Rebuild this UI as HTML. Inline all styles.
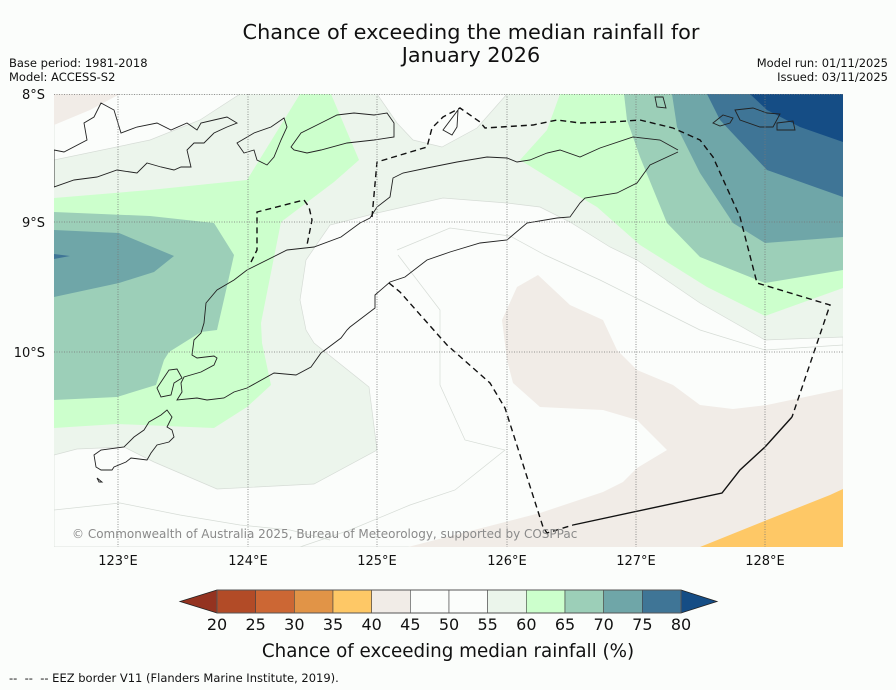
<!DOCTYPE html>
<html><head><meta charset="utf-8"><style>
html,body{margin:0;padding:0;background:#fbfdfb;}
svg{display:block;font-family:"DejaVu Sans","Liberation Sans",sans-serif;}
</style></head><body>
<svg width="896" height="690" viewBox="0 0 896 690">
<rect x="0" y="0" width="896" height="690" fill="#fbfdfb"/>
<text x="471" y="39" font-size="20.8" text-anchor="middle" fill="#111">Chance of exceeding the median rainfall for</text>
<text x="471" y="62" font-size="20.8" text-anchor="middle" fill="#111">January 2026</text>
<text x="9" y="67" font-size="11.5" fill="#111">Base period: 1981-2018</text>
<text x="9" y="81" font-size="11.5" fill="#111">Model: ACCESS-S2</text>
<text x="888" y="67" font-size="11.5" fill="#111" text-anchor="end">Model run: 01/11/2025</text>
<text x="888" y="81" font-size="11.5" fill="#111" text-anchor="end">Issued: 03/11/2025</text>

<defs><clipPath id="mc"><rect x="54" y="94" width="789" height="453"/></clipPath></defs>
<g clip-path="url(#mc)">
<rect x="54" y="94" width="789" height="453" fill="#ecf5ec"/>
<polygon fill="#fbfdfb" stroke="#d6dcd6" stroke-width="0.7" points="54,94 240,94 200,120 150,140 54,160"/>
<polygon fill="#f1ece7" points="54,94 120,94 90,110 54,125"/>
<polygon fill="#fbfdfb" stroke="#d6dcd6" stroke-width="0.7" points="377,94 397,123 413,140 442,147 477,128 507,94"/>
<polygon fill="#fbfdfb" stroke="#d6dcd6" stroke-width="0.7" points="54,455 77,449 124,447 154,462 217,489 314,484 377,450 369,387 314,343 306,330 300,300 306,260 330,225 377,213 443,198 507,203 540,207 570,222 610,247 637,260 700,303 765,340 843,337 843,547 54,547"/>
<polyline fill="none" stroke="#d6dcd6" stroke-width="0.7" points="397,250 450,228 510,236 545,255 600,280 640,300 700,330 765,350 843,345"/>
<polyline fill="none" stroke="#d6dcd6" stroke-width="0.7" points="54,510 120,503 180,515 240,525 290,530 330,540"/>
<polyline fill="none" stroke="#d6dcd6" stroke-width="0.7" points="398,255 440,310 440,385 465,440 505,450 455,490 410,505 350,530 300,547"/>
<polygon fill="#f1ece7" points="538,275 517,287 502,320 507,360 513,383 540,407 603,410 637,420 667,450 637,468 623,482 603,492 540,513 408,547 843,547 843,389 767,405 733,409 700,405 673,385 637,370 617,350 603,320 570,305"/>
<polygon fill="#fec866" points="700,547 767,520 830,495 843,489 843,547"/>
<polygon fill="#ccffcc" points="54,198 150,190 247,180 300,94 331,94 359,160 334,182 281,222 261,323 262,343 271,385 247,407 214,428 117,424 54,428"/>
<polygon fill="#ccffcc" points="560,94 624,94 843,94 843,288 765,316 707,287 640,245 597,207 580,197 520,160 547,130"/>
<polygon fill="#9ccfb8" points="54,212 150,216 214,223 234,255 225,295 217,330 201,332 169,352 164,360 156,385 117,397 54,400"/>
<polygon fill="#9ccfb8" points="624,94 843,94 843,270 765,283 700,257 667,223 640,157 627,120"/>
<polygon fill="#6fa6a8" points="54,230 119,233 174,256 154,272 119,283 54,297"/>
<polygon fill="#6fa6a8" points="672,94 843,94 843,237 765,243 733,223 700,173 677,127"/>
<polygon fill="#3f7596" points="54,254 70,256 54,259"/>
<polygon fill="#3f7596" points="707,94 843,94 843,197 767,170 720,120"/>
<polygon fill="#154d85" points="750,94 843,94 843,142 800,127 767,110"/>

<g fill="none" stroke="#222" stroke-width="0.9">
<polygon points="54,150 64,152 87,140 84,123 94,117 101,103 114,110 121,133 137,127 157,123 171,130 187,123 197,130 201,123 214,120 227,117 237,123 227,127 214,133 204,143 194,143 187,150 191,167 181,167 174,170 161,167 147,163 137,173 117,170 97,177 74,180 54,187"/>
<polygon points="237,143 254,133 271,127 284,118 287,127 281,140 274,157 267,165 257,160 254,150 244,153"/>
<polygon points="291,147 301,133 321,123 337,115 354,113 374,115 387,113 394,123 394,137 374,140 347,143 321,150 307,153 294,150"/>
<polygon points="443,130 458,110 457,127 452,135"/>
<polygon points="655,97 663,97 666,108 657,107"/>
<polygon points="713,123 723,115 733,118 730,123 720,126"/>
<polygon points="735,110 753,108 767,113 780,114 773,127 760,127 740,120"/>
<polygon points="777,123 793,121 795,130 777,130"/>
<polygon points="157,388 169,370 177,369 182,378 174,383 171,395 161,397"/>
<polygon points="167,410 172,417 167,427 172,430 174,437 169,442 157,445 151,453 147,460 131,458 126,462 114,467 112,470 101,470 96,467 94,455 101,450 124,447 134,437 144,430 149,422 161,415"/>
<polygon points="97,478 102,482 99,482"/>
<polyline points="678,150 660,140 633,137 600,148 580,157 560,150 547,153 530,160 517,162 507,158 487,157 457,162 427,168 403,173 393,178 390,197 377,207 370,218 360,223 341,237 314,247 287,250 247,270 234,280 217,290 206,303 204,323 201,333 194,340 192,355 197,358 214,356 217,358 214,365 201,372 184,377 181,383 182,392 177,400 197,398 207,400 224,398 234,392 247,388 274,373 296,375 311,367 321,353 341,338 347,330 350,327 375,308 375,295 390,282 405,277 427,260 450,252 480,243 507,240 527,223 557,218 570,217 580,203 585,198 617,193 637,183 650,165 678,152"/>
</g>

<g fill="none" stroke="#111" stroke-width="1.4" stroke-dasharray="6,4">
<polyline points="372,217 377,162 427,147 432,128 443,117 460,108 480,122 485,128 533,125 557,120 580,123 613,122 640,120 673,128 700,140 713,157 740,217 757,283 830,305 792,417"/>
<polyline points="251,262 257,250 257,212 304,200 309,207 312,220 307,245"/>
<polyline points="389,283 400,292 447,345 490,383 505,408 543,527 547,533 573,525"/>
</g>
<polyline fill="none" stroke="#111" stroke-width="1.4" points="573,525 722,493 740,470 765,447 792,417"/>

<g stroke="#777" stroke-width="0.8" stroke-dasharray="1,1.5">
<line x1="118" y1="94" x2="118" y2="547"/><line x1="248" y1="94" x2="248" y2="547"/><line x1="377" y1="94" x2="377" y2="547"/><line x1="507" y1="94" x2="507" y2="547"/><line x1="636" y1="94" x2="636" y2="547"/><line x1="765" y1="94" x2="765" y2="547"/>
<line x1="54" y1="94.5" x2="843" y2="94.5"/><line x1="54" y1="222" x2="843" y2="222"/><line x1="54" y1="352" x2="843" y2="352"/>
</g>
<text x="72" y="538" font-size="12" fill="#8a8a8a">© Commonwealth of Australia 2025, Bureau of Meteorology, supported by COSPPac</text>
</g>

<g font-size="13" fill="#111">
<text x="45" y="99" text-anchor="end">8°S</text>
<text x="45" y="227" text-anchor="end">9°S</text>
<text x="45" y="357" text-anchor="end">10°S</text>
</g>
<g font-size="13" fill="#111" text-anchor="middle">
<text x="118" y="565">123°E</text><text x="248" y="565">124°E</text><text x="377" y="565">125°E</text><text x="507" y="565">126°E</text><text x="636" y="565">127°E</text><text x="765" y="565">128°E</text>
</g>

<g id="cbar"></g>
<text x="448" y="657" font-size="18.3" text-anchor="middle" fill="#111">Chance of exceeding median rainfall (%)</text>
<text x="9" y="682" font-size="11.5" fill="#111" xml:space="preserve">--  --  -- EEZ border V11 (Flanders Marine Institute, 2019).</text>
</svg>
<script>
const levels = [20,25,30,35,40,45,50,55,60,65,70,75,80];
const binColors = ["#b24b27","#cc6734","#e19447","#fec866","#f1ece7","#fbfdfb","#fbfdfb","#ebf5eb","#ccffcc","#9ccfb8","#6fa6a8","#3f7596"];
const underColor = "#943320";
const overColor = "#154d85";
(function(){
  const NS="http://www.w3.org/2000/svg";
  const g=document.getElementById('cbar');
  const x0=217,x1=681,y0=590,y1=613;
  const xs=v=>x0+(v-levels[0])/(levels[levels.length-1]-levels[0])*(x1-x0);
  const ym=(y0+y1)/2;
  const l=document.createElementNS(NS,'polygon');
  l.setAttribute('points',`${x0},${y0} 180,${ym} ${x0},${y1}`);
  l.setAttribute('fill',underColor);l.setAttribute('stroke','#222');l.setAttribute('stroke-width','0.8');
  
  
  g.appendChild(l);
  const r=document.createElementNS(NS,'polygon');
  r.setAttribute('points',`${x1},${y0} 717,${ym} ${x1},${y1}`);
  r.setAttribute('fill',overColor);r.setAttribute('stroke','#222');r.setAttribute('stroke-width','0.8');
  
  
  g.appendChild(r);
  for(let i=0;i<binColors.length;i++){
    const b=document.createElementNS(NS,'rect');
    b.setAttribute('x',xs(levels[i]));b.setAttribute('y',y0);
    b.setAttribute('width',xs(levels[i+1])-xs(levels[i]));b.setAttribute('height',y1-y0);
    b.setAttribute('fill',binColors[i]);b.setAttribute('stroke','#444');b.setAttribute('stroke-width','0.6');
    
    
    g.appendChild(b);
  }
  const f=document.createElementNS(NS,'rect');
  f.setAttribute('x',x0);f.setAttribute('y',y0);f.setAttribute('width',x1-x0);f.setAttribute('height',y1-y0);
  f.setAttribute('fill','none');f.setAttribute('stroke','#555');f.setAttribute('stroke-width','1');
  
  
  g.appendChild(f);
  levels.forEach(v=>{
    const t=document.createElementNS(NS,'text');
    t.setAttribute('x',xs(v));t.setAttribute('y',630);t.setAttribute('font-size','16');
    t.setAttribute('text-anchor','middle');t.setAttribute('fill','#111');
    t.textContent=v;
    
    
    g.appendChild(t);
  });
})();
</script>
</body></html>
